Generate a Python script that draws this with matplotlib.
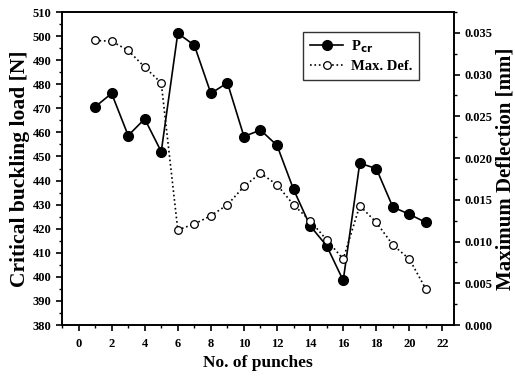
import matplotlib
matplotlib.use("Agg")
import matplotlib.pyplot as plt
from matplotlib.ticker import MultipleLocator, FormatStrFormatter

punches = list(range(1, 22))
p_cr = [470.6, 476.2, 458.7, 465.6, 452.0, 501.2, 496.2, 476.2, 480.6, 458.3,
        461.0, 454.6, 436.3, 421.2, 412.9, 398.5, 447.2, 445.0, 429.0, 426.0, 422.6]
max_def = [0.0341, 0.0340, 0.0329, 0.0309, 0.0290, 0.0114, 0.0121, 0.0131, 0.0144, 0.0166,
           0.0182, 0.0168, 0.0144, 0.0125, 0.0102, 0.0079, 0.0143, 0.0123, 0.0096, 0.0079, 0.0043]

plt.rcParams['font.family'] = ['Liberation Serif', 'DejaVu Serif']
plt.rcParams['font.weight'] = 'bold'
plt.rcParams['mathtext.default'] = 'bf'

fig = plt.figure(figsize=(5.15, 3.76), dpi=100)
ax = fig.add_axes([0.1204, 0.1356, 0.7612, 0.8324])
ax2 = ax.twinx()

l1, = ax.plot(punches, p_cr, 'k-', marker='o', ms=7, mfc='k', lw=1.2, label='P$_{cr}$')
l2, = ax2.plot(punches, max_def, 'k:', marker='o', ms=5.5, mfc='white', mew=0.9, lw=1.2, label='Max. Def.')

ax.set_xlim(-1, 22.7)
ax.set_ylim(380, 510)
ax2.set_ylim(0, 0.0375)

ax.xaxis.set_major_locator(MultipleLocator(2))
ax.xaxis.set_minor_locator(MultipleLocator(1))
ax.yaxis.set_major_locator(MultipleLocator(10))
ax.yaxis.set_minor_locator(MultipleLocator(5))
ax2.yaxis.set_major_locator(MultipleLocator(0.005))
ax2.yaxis.set_minor_locator(MultipleLocator(0.0025))
ax2.yaxis.set_major_formatter(FormatStrFormatter('%.3f'))

for a in (ax, ax2):
    a.tick_params(which='major', length=4, width=1.2, labelsize=9)
    a.tick_params(which='minor', length=2.5, width=1)
    for s in a.spines.values():
        s.set_linewidth(1.2)
ax.tick_params(axis='x', pad=5)
ax.tick_params(top=False, right=False)
for lab in ax.get_xticklabels() + ax.get_yticklabels() + ax2.get_yticklabels():
    lab.set_fontweight('bold')

ax.set_xlabel('No. of punches', fontsize=12.5, fontweight='bold', labelpad=4)
ax.set_ylabel('Critical buckling load [N]', fontsize=15.5, fontweight='bold', labelpad=2)
ax2.set_ylabel('Maximum Deflection [mm]', fontsize=15, fontweight='bold', labelpad=2)

leg = ax.legend(handles=[l1, l2], loc='upper left', bbox_to_anchor=(0.597, 0.96),
                frameon=True, fancybox=False, edgecolor='k', fontsize=10.5,
                handlelength=2.3, borderpad=0.45, labelspacing=0.35, handletextpad=0.5)
leg.get_frame().set_linewidth(1.0)
for t in leg.get_texts():
    t.set_fontweight('bold')

fig.savefig('out.png', dpi=100)
